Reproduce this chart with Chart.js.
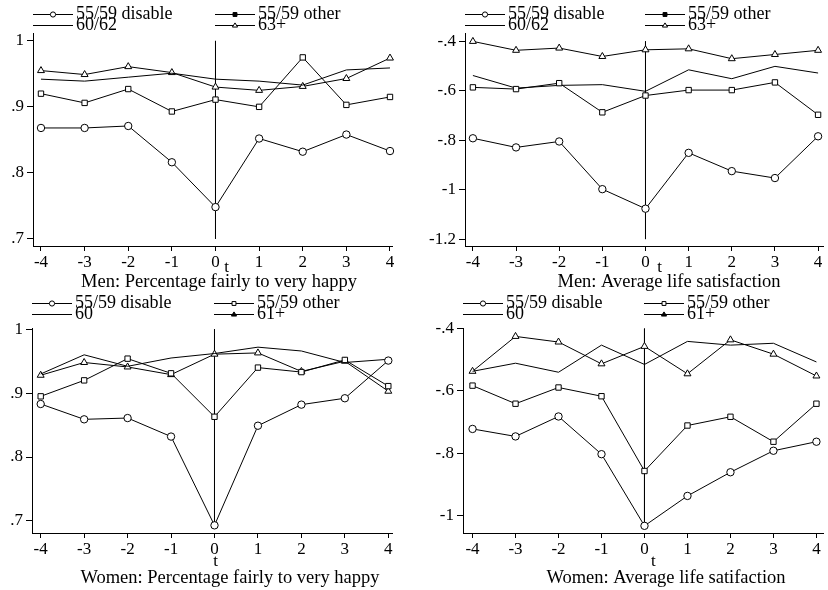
<!DOCTYPE html>
<html>
<head>
<meta charset="utf-8">
<script src="https://cdn.jsdelivr.net/npm/chart.js@4.4.1/dist/chart.umd.min.js"></script>
<style>
  body { margin: 0; background: #fff; }
  #wrap { position: relative; width: 828px; height: 590px; background: #fff; }
  #wrap canvas { position: absolute; }
</style>
</head>
<body>
<div id="wrap">
  <canvas id="menHappy" width="414" height="295" style="left:0;top:0"></canvas>
  <canvas id="menSat" width="414" height="295" style="left:414px;top:0"></canvas>
  <canvas id="womenHappy" width="414" height="295" style="left:0;top:295px"></canvas>
  <canvas id="womenSat" width="414" height="295" style="left:414px;top:295px"></canvas>
</div>
<script>
// event time t (years around retirement)
const tValues = [-4, -3, -2, -1, 0, 1, 2, 3, 4];

const menLabels = ['55/59 disable', '55/59 other', '60/62', '63+'];
const womenLabels = ['55/59 disable', '55/59 other', '60', '61+'];

// Men: percentage fairly to very happy
const menHappyDisable = [0.868, 0.868, 0.871, 0.816, 0.748, 0.852, 0.832, 0.858, 0.833];
const menHappyOther   = [0.920, 0.906, 0.927, 0.893, 0.911, 0.900, 0.975, 0.903, 0.915];
const menHappyMid     = [0.942, 0.939, 0.945, 0.951, 0.942, 0.939, 0.933, 0.956, 0.959];
const menHappyOld     = [0.955, 0.949, 0.961, 0.952, 0.930, 0.925, 0.931, 0.943, 0.974];

// Men: average life satisfaction
const menSatDisable = [-0.792, -0.829, -0.805, -0.998, -1.077, -0.851, -0.925, -0.953, -0.784];
const menSatOther   = [-0.586, -0.593, -0.569, -0.687, -0.619, -0.597, -0.597, -0.566, -0.697];
const menSatMid     = [-0.538, -0.589, -0.578, -0.575, -0.602, -0.515, -0.551, -0.501, -0.528];
const menSatOld     = [-0.400, -0.436, -0.427, -0.461, -0.434, -0.430, -0.470, -0.453, -0.436];

// Women: percentage fairly to very happy
const womenHappyDisable = [0.883, 0.859, 0.861, 0.832, 0.693, 0.849, 0.882, 0.892, 0.951];
const womenHappyOther   = [0.895, 0.920, 0.954, 0.931, 0.863, 0.940, 0.933, 0.952, 0.911];
const womenHappyMid     = [0.930, 0.960, 0.942, 0.955, 0.962, 0.972, 0.966, 0.948, 0.953];
const womenHappyOld     = [0.928, 0.948, 0.941, 0.929, 0.961, 0.963, 0.934, 0.950, 0.903];

// Women: average life satisfaction
const womenSatDisable = [-0.722, -0.746, -0.682, -0.803, -1.033, -0.937, -0.861, -0.792, -0.763];
const womenSatOther   = [-0.583, -0.641, -0.589, -0.617, -0.857, -0.711, -0.683, -0.763, -0.641];
const womenSatMid     = [-0.537, -0.511, -0.540, -0.453, -0.515, -0.441, -0.453, -0.447, -0.507];
const womenSatOld     = [-0.537, -0.425, -0.443, -0.513, -0.457, -0.545, -0.436, -0.482, -0.552];

// y tick values and their printed labels
const happyTicks = [0.7, 0.8, 0.9, 1];
const happyTickLabels = ['.7', '.8', '.9', '1'];
const menSatTicks = [-1.2, -1, -0.8, -0.6, -0.4];
const menSatTickLabels = ['-1.2', '-1', '-.8', '-.6', '-.4'];
const womenSatTicks = [-1, -0.8, -0.6, -0.4];
const womenSatTickLabels = ['-1', '-.8', '-.6', '-.4'];

// vertical reference line at t = 0 (top, bottom)
const menHappyRefLine = [1, 0.7];
const menSatRefLine = [-0.4, -1.2];
const womenHappyRefLine = [1, 0.69];
const womenSatRefLine = [-0.4, -1.035];

const serif = '"Liberation Serif", "Times New Roman", serif';
const black = '#000';

function drawMarker(ctx, style, x, y, r, filled) {
    ctx.beginPath();
    if (style === 'circle') {
        ctx.arc(x, y, r, 0, Math.PI * 2);
    } else if (style === 'rect') {
        ctx.rect(x - r * 0.75, y - r * 0.75, r * 1.5, r * 1.5);
    } else if (style === 'triangle') {
        ctx.moveTo(x, y - r);
        ctx.lineTo(x + r, y + r * 0.6);
        ctx.lineTo(x - r, y + r * 0.6);
        ctx.closePath();
    } else {
        return;
    }
    ctx.fillStyle = filled ? black : '#fff';
    ctx.fill();
    ctx.stroke();
}

// legend grid, the "t" axis label and the caption under each panel
const panelText = {
    id: 'panelText',
    afterDraw(chart, args, opts) {
        const ctx = chart.ctx;
        const area = chart.chartArea;
        const x0 = chart.scales.x.getPixelForValue(0);
        ctx.save();
        ctx.strokeStyle = black;
        ctx.lineWidth = 1;
        ctx.fillStyle = black;
        ctx.font = '18px ' + serif;
        ctx.textBaseline = 'middle';

        const cols = [area.left, x0];
        chart.data.datasets.slice(0, 4).forEach((ds, i) => {
            const lx = Math.round(cols[i % 2]);
            const ly = opts.legendRows[Math.floor(i / 2)];
            ctx.beginPath();
            ctx.moveTo(lx, ly);
            ctx.lineTo(lx + 40, ly);
            ctx.stroke();
            drawMarker(ctx, ds.pointStyle, lx + 20, ly, 2.6, opts.legendFilled[i]);
            ctx.fillStyle = black;
            ctx.textAlign = 'left';
            ctx.fillText(ds.label, lx + 43, ly);
        });

        ctx.textAlign = 'center';
        ctx.font = '17px ' + serif;
        ctx.fillText('t', x0 + opts.tOffset[0], opts.tOffset[1]);

        ctx.font = '18.5px ' + serif;
        ctx.fillText(opts.caption, opts.captionPos[0], opts.captionPos[1]);
        ctx.restore();
    }
};

function makePanel(id, labels, series, refLine, yTicks, yTickLabels, box, text) {
    const styles = ['circle', 'rect', false, 'triangle'];
    const radii = [3.7, 3.8, 0, 4];
    const datasets = series.map((values, i) => ({
        label: labels[i],
        data: tValues.map((t, j) => ({ x: t, y: values[j] })),
        borderColor: black,
        borderWidth: 1,
        pointStyle: styles[i],
        pointRadius: radii[i],
        pointBorderWidth: 1,
        pointBorderColor: black,
        pointBackgroundColor: '#fff',
        tension: 0,
        clip: false,
    }));
    datasets.push({
        label: 'ref',
        data: refLine.map(v => ({ x: 0, y: v })),
        borderColor: black,
        borderWidth: 1,
        pointRadius: 0,
        tension: 0,
    });

    return new Chart(document.getElementById(id), {
        type: 'line',
        data: { datasets: datasets },
        options: {
            responsive: false,
            animation: false,
            devicePixelRatio: 1,
            layout: {
                padding: { top: box.top, right: 414 - box.right, left: 0, bottom: 0 }
            },
            plugins: {
                legend: { display: false },
                tooltip: { enabled: false },
                panelText: text,
            },
            scales: {
                x: {
                    type: 'linear',
                    min: box.xMin,
                    max: box.xMax,
                    afterBuildTicks: scale => { scale.ticks = tValues.map(v => ({ value: v })); },
                    afterFit: scale => { scale.height = 295 - box.bottom; },
                    grid: { drawOnChartArea: false, drawTicks: true, tickLength: 5, color: black },
                    border: { color: black, width: 1 },
                    ticks: {
                        color: black,
                        padding: 1,
                        maxRotation: 0,
                        font: { family: serif, size: 17 },
                        callback: v => String(v),
                    },
                },
                y: {
                    min: box.yMin,
                    max: box.yMax,
                    afterBuildTicks: scale => { scale.ticks = yTicks.map(v => ({ value: v })); },
                    afterFit: scale => { scale.width = box.left; },
                    grid: { drawOnChartArea: false, drawTicks: true, tickLength: 6, color: black },
                    border: { color: black, width: 1 },
                    ticks: {
                        color: black,
                        padding: 3,
                        font: { family: serif, size: 17 },
                        callback: (v, i) => yTickLabels[i],
                    },
                },
            },
        },
        plugins: [panelText],
    });
}

makePanel('menHappy', menLabels,
    [menHappyDisable, menHappyOther, menHappyMid, menHappyOld],
    menHappyRefLine, happyTicks, happyTickLabels,
    { left: 33, right: 392, top: 33, bottom: 246, xMin: -4.183, xMax: 4.046, yMin: 0.689, yMax: 1.012 },
    { legendRows: [14.5, 25.5], legendFilled: [false, true, false, false],
      tOffset: [11, 268], caption: 'Men: Percentage fairly to very happy', captionPos: [219, 282] });

makePanel('menSat', menLabels,
    [menSatDisable, menSatOther, menSatMid, menSatOld],
    menSatRefLine, menSatTicks, menSatTickLabels,
    { left: 51, right: 413, top: 33, bottom: 246, xMin: -4.183, xMax: 4.114, yMin: -1.228, yMax: -0.366 },
    { legendRows: [14.5, 25.5], legendFilled: [false, true, false, false],
      tOffset: [14, 268], caption: 'Men: Average life satisfaction', captionPos: [255, 282] });

makePanel('womenHappy', womenLabels,
    [womenHappyDisable, womenHappyOther, womenHappyMid, womenHappyOld],
    womenHappyRefLine, happyTicks, happyTickLabels,
    { left: 32, right: 392, top: 33, bottom: 238, xMin: -4.2, xMax: 4.085, yMin: 0.681, yMax: 1.002 },
    { legendRows: [8.5, 19.5], legendFilled: [false, false, false, true],
      tOffset: [1, 267], caption: 'Women: Percentage fairly to very happy', captionPos: [230, 283] });

makePanel('womenSat', womenLabels,
    [womenSatDisable, womenSatOther, womenSatMid, womenSatOld],
    womenSatRefLine, womenSatTicks, womenSatTickLabels,
    { left: 49, right: 413, top: 33, bottom: 238, xMin: -4.222, xMax: 4.153, yMin: -1.056, yMax: -0.398 },
    { legendRows: [8.5, 19.5], legendFilled: [false, false, false, true],
      tOffset: [9, 267], caption: 'Women: Average life satifaction', captionPos: [252, 283] });
</script>
</body>
</html>
